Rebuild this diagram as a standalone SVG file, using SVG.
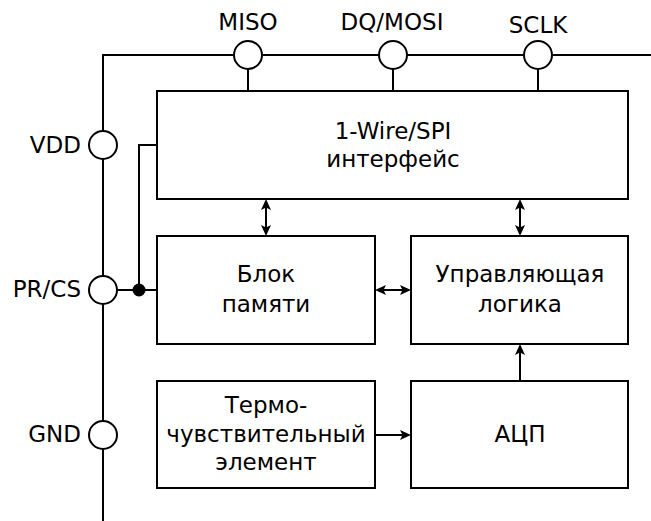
<svg xmlns="http://www.w3.org/2000/svg" width="651" height="521" viewBox="0 0 651 521">
<style>
.box{fill:#fff;stroke:#000;stroke-width:2}
.pin{fill:#fff;stroke:#000;stroke-width:2}
.w{fill:none;stroke:#000;stroke-width:2}
text{font-family:"DejaVu Sans","Liberation Sans",sans-serif;font-size:23px;fill:#000}
.c{text-anchor:middle}
.r{text-anchor:end}
</style>
<defs>
<marker id="ah" viewBox="0 0 11 10" refX="8" refY="5" markerWidth="11" markerHeight="10" markerUnits="userSpaceOnUse" orient="auto-start-reverse">
<path d="M0,0 L11,5 L0,10 L2.5,5 Z" fill="#000"/>
</marker>
</defs>
<g id="connectors">
<path class="w" d="M103,521 V55 H651"/>
<path class="w" d="M248,69 V91 M393,69 V91 M538,69 V91"/>
<path class="w" d="M117,290 H157 M139,290 V145 H157"/>
<circle cx="139" cy="290" r="6.5" fill="#000"/>
<line class="w" x1="266" y1="202" x2="266" y2="233" marker-start="url(#ah)" marker-end="url(#ah)"/>
<line class="w" x1="520" y1="202" x2="520" y2="233" marker-start="url(#ah)" marker-end="url(#ah)"/>
<line class="w" x1="378" y1="290" x2="408" y2="290" marker-start="url(#ah)" marker-end="url(#ah)"/>
<line class="w" x1="520" y1="381" x2="520" y2="347" marker-end="url(#ah)"/>
<line class="w" x1="375" y1="435" x2="408" y2="435" marker-end="url(#ah)"/>
</g>
<g id="pin-miso"><circle class="pin" cx="248" cy="55" r="14"/><text class="c" x="248" y="30">MISO</text></g>
<g id="pin-dq"><circle class="pin" cx="393" cy="55" r="14"/><text class="c" x="392" y="30">DQ/MOSI</text></g>
<g id="pin-sclk"><circle class="pin" cx="538" cy="55" r="14"/><text class="c" x="538" y="33">SCLK</text></g>
<g id="pin-vdd"><circle class="pin" cx="103" cy="145" r="14"/><text class="r" x="81" y="153">VDD</text></g>
<g id="pin-prcs"><circle class="pin" cx="103" cy="290" r="14"/><text class="r" x="81" y="297">PR/CS</text></g>
<g id="pin-gnd"><circle class="pin" cx="103" cy="435" r="14"/><text class="r" x="81" y="442">GND</text></g>
<g id="interface"><rect class="box" x="157" y="91" width="471" height="108"/><text class="c" x="393" y="138.5">1-Wire/SPI</text><text class="c" x="393" y="167">интерфейс</text></g>
<g id="memory"><rect class="box" x="157" y="236" width="218" height="108"/><text class="c" x="266" y="282">Блок</text><text class="c" x="266" y="311.5">памяти</text></g>
<g id="logic"><rect class="box" x="411" y="236" width="217" height="108"/><text class="c" x="520" y="282">Управляющая</text><text class="c" x="520" y="311.5">логика</text></g>
<g id="sensor"><rect class="box" x="157" y="381" width="218" height="107"/><text class="c" x="266" y="412.5">Термо-</text><text class="c" x="266" y="441.5">чувствительный</text><text class="c" x="266" y="470">элемент</text></g>
<g id="adc"><rect class="box" x="411" y="381" width="217" height="107"/><text class="c" x="520" y="441.5">АЦП</text></g>
</svg>
